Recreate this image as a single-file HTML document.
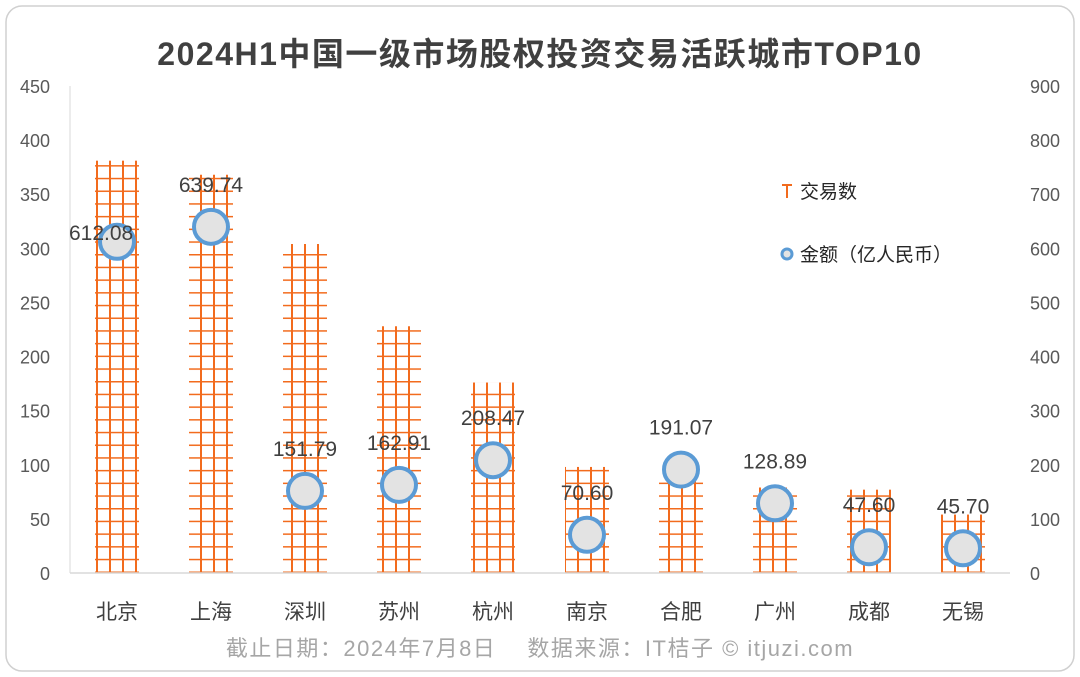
<!DOCTYPE html>
<html><head><meta charset="utf-8"><style>
body{margin:0;background:#fff;font-family:"Liberation Sans","Noto Sans CJK SC",sans-serif}
#wrap{position:relative;width:1080px;height:677px;overflow:hidden}
</style></head><body>
<div id="wrap">
<svg id="c" width="1080" height="677" xmlns="http://www.w3.org/2000/svg">
<defs>
<pattern id="grid" patternUnits="userSpaceOnUse" width="13" height="12.7" x="0" y="0">
<line x1="0" y1="0.5" x2="13" y2="0.5" stroke="#f26b1d" stroke-width="2"/>
<line x1="6" y1="0" x2="6" y2="12.7" stroke="#f26b1d" stroke-width="2"/>
</pattern>
</defs>
<rect x="6" y="6" width="1068" height="665" rx="16" fill="#fff" stroke="#d0d0d0" stroke-width="1.5"/>
<text x="540" y="65" text-anchor="middle" font-size="32" font-weight="bold" letter-spacing="1.5" fill="#404040">2024H1中国一级市场股权投资交易活跃城市TOP10</text>
<g id="plot"></g>
<text x="540" y="656" text-anchor="middle" font-size="22" letter-spacing="1.5" fill="#a6a6a6">截止日期：2024年7月8日　 数据来源：IT桔子 © itjuzi.com</text>
</svg>
</div>
<script>
const categories=["北京","上海","深圳","苏州","杭州","南京","合肥","广州","成都","无锡"];
const dealCounts=[381,368,304,228,176,98,89,79,77,54];
const amounts=[612.08,639.74,151.79,162.91,208.47,70.60,191.07,128.89,47.60,45.70];
const leftTicks=[0,50,100,150,200,250,300,350,400,450];
const rightTicks=[0,100,200,300,400,500,600,700,800,900];
const NS="http://www.w3.org/2000/svg";
const g=document.getElementById('plot');
const y0=573,yTop=86,x0=70,x1=1010;
const yL=v=>y0-(v/450)*(y0-yTop);
const yR=v=>y0-(v/900)*(y0-yTop);
const step=(x1-x0)/categories.length;
const xC=i=>x0+step*(i+0.5);
function mk(t,a){const e=document.createElementNS(NS,t);for(const k in a)e.setAttribute(k,a[k]);g.appendChild(e);return e;}
const ax=mk('line',{x1:x0,y1:86,x2:x0,y2:y0,stroke:'#e6e6e6','stroke-width':1.5});


leftTicks.forEach(v=>{const t=mk('text',{x:50,y:yL(v)+7,'text-anchor':'end','font-size':18,fill:'#595959'});t.textContent=v;

});
rightTicks.forEach(v=>{const t=mk('text',{x:1030,y:yR(v)+7,'text-anchor':'start','font-size':18,fill:'#595959'});t.textContent=v;

});
dealCounts.forEach((v,i)=>{const r=mk('rect',{x:xC(i)-22,y:yL(v),width:44,height:y0-yL(v),fill:'url(#grid)'});

});
const base=mk('line',{x1:x0,y1:y0,x2:x1,y2:y0,stroke:'#d9d9d9','stroke-width':1.5});


categories.forEach((c,i)=>{const t=mk('text',{x:xC(i),y:619,'text-anchor':'middle','font-size':21,fill:'#404040'});t.textContent=c;

});
amounts.forEach((v,i)=>{const cy=yR(v);const c=mk('circle',{cx:xC(i),cy:cy,r:17,fill:'#e3e3e3',stroke:'#5b9bd5','stroke-width':4});


let lx=xC(i),ly=cy-35,anc='middle';
if(i===0){lx=xC(i)-48;ly=cy-2;anc='start';}
const t=mk('text',{x:lx,y:ly,'text-anchor':anc,'font-size':21,fill:'#404040'});t.textContent=v.toFixed(2);

});
const lg1=mk('path',{d:'M782 185 H792 M787 185 V198',stroke:'#f26b1d','stroke-width':2,fill:'none'});


const lt1=mk('text',{x:800,y:198,'font-size':19,fill:'#262626'});lt1.textContent='交易数';


const lg2=mk('circle',{cx:787,cy:254,r:5,fill:'#e3e3e3',stroke:'#5b9bd5','stroke-width':3});


const lt2=mk('text',{x:800,y:261,'font-size':19,fill:'#262626'});lt2.textContent='金额（亿人民币）';


</script>
</body></html>
